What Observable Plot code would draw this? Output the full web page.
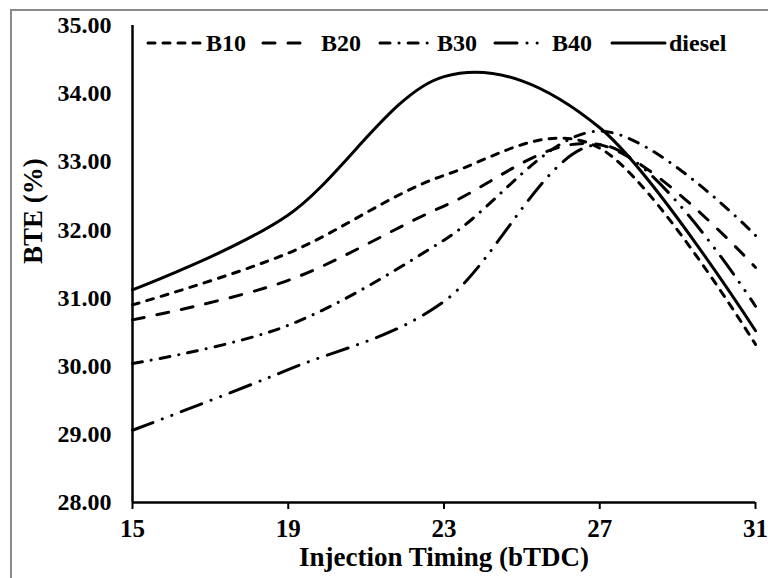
<!DOCTYPE html>
<html>
<head>
<meta charset="utf-8">
<script src="https://cdn.jsdelivr.net/npm/d3@7"></script>
<script src="https://cdn.jsdelivr.net/npm/@observablehq/plot@0.6"></script>
<style>
  html, body { margin: 0; padding: 0; background: #fff; }
  #wrap { position: relative; width: 768px; height: 578px; overflow: hidden; font-family: "Liberation Serif", "DejaVu Serif", serif; font-weight: bold; }
  #wrap svg text { font-family: "Liberation Serif", "DejaVu Serif", serif; }
  #border { position: absolute; left: 10px; top: 9px; width: 900px; height: 700px; border: 2px solid #8a8a8a; box-sizing: border-box; pointer-events: none; }
  .leg { position: absolute; top: 30px; height: 26px; }
  .leg svg { position: absolute; top: 0; }
  .leg span { position: absolute; top: 0; font-size: 24px; line-height: 26px; white-space: nowrap; font-family: "Liberation Serif", "DejaVu Serif", serif; font-weight: bold; }
</style>
</head>
<body>
<div id="wrap">
  <div id="chart"></div>
  <div id="border"></div>
  <div id="legend"></div>
</div>
<script>
// Data
const injectionTiming = [15, 19, 23, 27, 31];
const b10 = [30.90, 31.66, 32.80, 33.20, 30.32];
const b20 = [30.68, 31.26, 32.35, 33.25, 31.45];
const b30 = [30.04, 30.60, 31.85, 33.45, 31.92];
const b40 = [29.06, 29.95, 30.95, 33.25, 30.88];
const diesel = [31.12, 32.22, 34.25, 33.50, 30.52];
const seriesNames = ["B10", "B20", "B30", "B40", "diesel"];
const xTicks = [15, 19, 23, 27, 31];
const yTicks = [28, 29, 30, 31, 32, 33, 34, 35];

const seriesValues = {B10: b10, B20: b20, B30: b30, B40: b40, diesel: diesel};
const dashes = {
  B10: "7,8",
  B20: "12,13",
  B30: "10,9,0.1,9",
  B40: "22,10,0.1,10,0.1,10",
  diesel: "none"
};

const rows = [];
for (const name of seriesNames) {
  seriesValues[name].forEach((v, i) => rows.push({series: name, x: injectionTiming[i], y: v}));
}

const lineMarks = seriesNames.map(name =>
  Plot.line(rows.filter(d => d.series === name), {
    x: "x", y: "y", curve: "cardinal", tension: 0,
    stroke: "#000", strokeWidth: 3, strokeLinecap: "round",
    strokeDasharray: dashes[name]
  })
);

const serif = "Liberation Serif, DejaVu Serif, serif";

const chart = Plot.plot({
  width: 768,
  height: 578,
  marginLeft: 132,
  marginRight: 13,
  marginTop: 25,
  marginBottom: 76,
  style: {fontFamily: serif, fontWeight: "bold", fontSize: "24px", color: "#000", background: "transparent"},
  x: {domain: [15, 31]},
  y: {domain: [28, 35]},
  marks: [
    Plot.axisX({ticks: xTicks, tickSize: 7, tickPadding: 10, tickFormat: d => String(d), label: null, strokeWidth: 2, fontSize: 25, fontFamily: serif, fontWeight: "bold"}),
    Plot.axisY({ticks: yTicks, tickSize: 0, tickPadding: 21, tickFormat: d => d.toFixed(2), label: null, fontSize: 24, fontFamily: serif, fontWeight: "bold"}),
    Plot.ruleY([28], {stroke: "#000", strokeWidth: 2.5}),
    Plot.ruleX([15], {stroke: "#000", strokeWidth: 2.5}),
    ...lineMarks,
    Plot.text(["Injection Timing (bTDC)"], {frameAnchor: "bottom", dy: 63, fontSize: 27, fontWeight: "bold", fontFamily: serif}),
    Plot.text(["BTE (%)"], {frameAnchor: "left", dx: -99, rotate: -90, fontSize: 27, fontWeight: "bold", fontFamily: serif})
  ]
});
document.getElementById("chart").appendChild(chart);

// Legend (inside the plot area, along the top)
const legendLayout = [
  {name: "B10", x0: 148, x1: 201, tx: 206},
  {name: "B20", x0: 263, x1: 306, tx: 321},
  {name: "B30", x0: 380, x1: 434, tx: 437},
  {name: "B40", x0: 495, x1: 540, tx: 552},
  {name: "diesel", x0: 612, x1: 665, tx: 669}
];
const legend = document.getElementById("legend");
for (const item of legendLayout) {
  const div = document.createElement("div");
  div.className = "leg";
  div.style.left = "0px";
  const w = item.x1 - item.x0;
  div.innerHTML = `<svg width="${w + 4}" height="26" style="left:${item.x0 - 2}px">
      <line x1="2" y1="13" x2="${w + 2}" y2="13" stroke="#000" stroke-width="3" stroke-linecap="round" stroke-dasharray="${dashes[item.name]}"/>
    </svg><span style="left:${item.tx}px">${item.name}</span>`;
  legend.appendChild(div);
}
</script>
</body>
</html>
